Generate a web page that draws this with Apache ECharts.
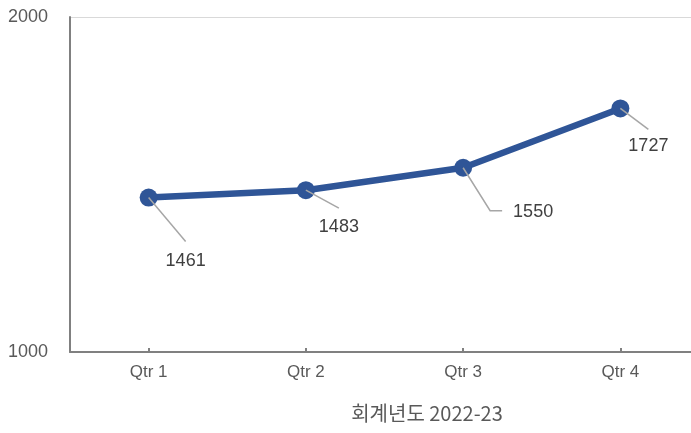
<!DOCTYPE html>
<html>
<head>
<meta charset="utf-8">
<script src="https://cdn.jsdelivr.net/npm/echarts@6/dist/echarts.min.js"></script>
<style>
  html, body { margin: 0; padding: 0; background: #fff; }
  #chart { width: 691px; height: 433px; }
</style>
</head>
<body>
<div id="chart"></div>
<script>
const categories = ['Qtr 1', 'Qtr 2', 'Qtr 3', 'Qtr 4']
const values = [1461, 1483, 1550, 1727]
const yTicks = [1000, 2000]
// label centre offsets from each point, in pixels
const labelOffsets = [[37, 63], [33, 37], [70, 44], [28, 38]]
// leader line bend points, relative to each point
const leaderOffsets = [
  [[37, 44]],
  [[33, 18]],
  [[27, 43], [39, 43]],
  [[28, 21]]
]

const chart = echarts.init(document.getElementById('chart'))

const option = {
  animation: false,
  title: {
    text: '회계년도 2022-23',
    left: 422,
    top: 398,
    textAlign: 'center',
    textStyle: {
      fontFamily: 'Noto Sans CJK KR',
      fontSize: 20,
      fontWeight: 'normal',
      color: '#595959'
    }
  },
  grid: {
    left: 70,
    right: -8,
    top: 17,
    bottom: 81,
    containLabel: false,
    outerBoundsMode: 'none'
  },
  xAxis: {
    type: 'category',
    data: categories,
    boundaryGap: true,
    axisLine: { lineStyle: { color: '#808080', width: 2 } },
    axisTick: { show: true, alignWithLabel: true, inside: true, length: 4, lineStyle: { color: '#808080', width: 2 } },
    axisLabel: { fontFamily: 'Liberation Sans', fontSize: 17, color: '#595959', margin: 12 }
  },
  yAxis: {
    type: 'value',
    min: yTicks[0],
    max: yTicks[yTicks.length - 1],
    interval: yTicks[1] - yTicks[0],
    axisLine: { show: true, lineStyle: { color: '#808080', width: 2 } },
    axisTick: { show: false },
    splitLine: { show: true, lineStyle: { color: '#d9d9d9', width: 1 } },
    axisLabel: {
      fontFamily: 'Liberation Sans',
      fontSize: 18,
      color: '#595959',
      margin: 22,
      formatter: (v) => String(v)
    }
  },
  series: [
    {
      type: 'line',
      data: values,
      symbol: 'circle',
      symbolSize: 18,
      lineStyle: { color: '#2F5597', width: 6.5 },
      itemStyle: { color: '#2F5597' },
      label: {
        show: true,
        position: 'inside',
        fontFamily: 'Liberation Sans',
        fontSize: 18,
        color: '#404040'
      },
      labelLayout: (params) => {
        const off = labelOffsets[params.dataIndex]
        return {
          x: params.rect.x + params.rect.width / 2 + off[0],
          y: params.rect.y + params.rect.height / 2 + off[1],
          align: 'center',
          verticalAlign: 'middle'
        }
      }
    },
    {
      // leader lines from each point to its label
      type: 'custom',
      z: 5,
      silent: true,
      data: values.map((v, i) => [i, v]),
      renderItem: (params, api) => {
        const p = api.coord([api.value(0), api.value(1)])
        const pts = [p].concat(leaderOffsets[params.dataIndex].map(o => [p[0] + o[0], p[1] + o[1]]))
        return {
          type: 'polyline',
          shape: { points: pts },
          style: { stroke: '#a6a6a6', lineWidth: 1.5, fill: null }
        }
      }
    }
  ]
}

chart.setOption(option)
</script>
</body>
</html>
